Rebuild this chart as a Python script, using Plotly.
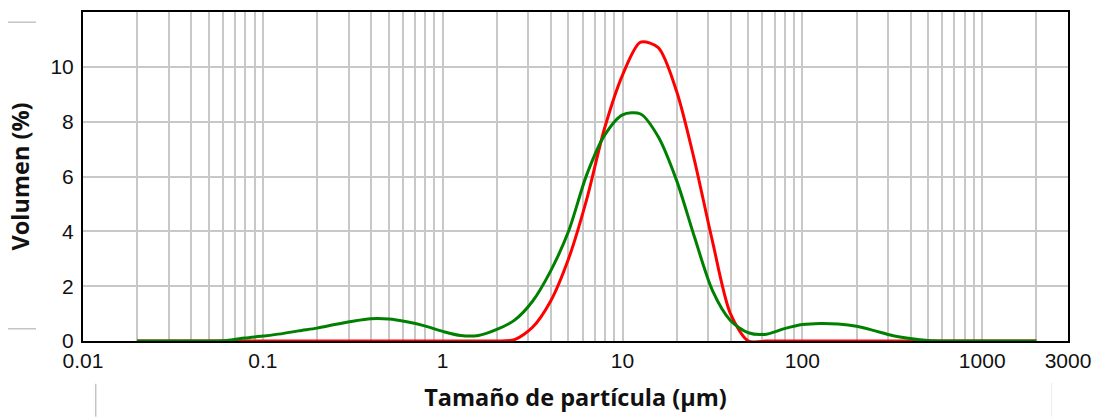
import plotly.graph_objects as go

# Particle size classes (µm), log-spaced, ten per decade
size_um = [0.02, 0.0251, 0.0316, 0.0398, 0.0501, 0.0631, 0.0794,
           0.1, 0.126, 0.158, 0.2, 0.251, 0.316, 0.398, 0.501, 0.631, 0.794,
           1.0, 1.26, 1.58, 2.0, 2.51, 3.16, 3.98, 5.01, 6.31, 7.94,
           10.0, 12.6, 15.8, 20.0, 25.1, 31.6, 39.8, 50.1, 63.1, 79.4,
           100.0, 126.0, 158.0, 200.0, 251.0, 316.0, 398.0, 501.0, 631.0, 794.0,
           1000.0, 1260.0, 1580.0, 2000.0]

# Volume distribution (%) of the narrow sample
volume_red = [0, 0, 0, 0, 0, 0, 0,
              0, 0, 0, 0, 0, 0, 0, 0, 0, 0,
              0, 0, 0, 0, 0.05, 0.5, 1.45, 3.0, 5.15, 7.75,
              9.7, 10.9, 10.7, 9.1, 6.6, 3.65, 1.0, 0, 0, 0,
              0, 0, 0, 0, 0, 0, 0, 0, 0, 0,
              0, 0, 0, 0]

# Volume distribution (%) of the multimodal sample
volume_green = [0, 0, 0, 0, 0, 0.02, 0.11,
                0.18, 0.26, 0.37, 0.47, 0.60, 0.72, 0.81, 0.80, 0.70, 0.55,
                0.35, 0.20, 0.20, 0.42, 0.76, 1.45, 2.55, 4.0, 6.05, 7.5,
                8.25, 8.28, 7.45, 5.85, 3.8, 1.85, 0.75, 0.30, 0.25, 0.45,
                0.60, 0.64, 0.62, 0.54, 0.38, 0.20, 0.09, 0.02, 0, 0,
                0, 0, 0, 0]

# Axis ticks
x_grid_vals = [m * 10 ** e for e in range(-2, 4) for m in range(1, 10)
               if m * 10 ** e <= 3000] + [3000]
x_labels = {0.01: "0.01", 0.1: "0.1", 1: "1", 10: "10", 100: "100",
            1000: "1000", 3000: "3000"}
x_tick_text = [x_labels.get(round(v, 4), "") for v in x_grid_vals]
y_tick_vals = [0, 2, 4, 6, 8, 10]
y_tick_text = ["0", "2", "4", "6", "8", "10"]

fig = go.Figure()
fig.add_trace(go.Scatter(
    x=size_um, y=volume_red, mode="lines",
    line=dict(color="#ff0000", width=3, shape="spline", smoothing=0.8),
    showlegend=False,
))
fig.add_trace(go.Scatter(
    x=size_um, y=volume_green, mode="lines",
    line=dict(color="#008000", width=3, shape="spline", smoothing=0.8),
    showlegend=False,
))

grid_color = "#c8c8c8"
tick_font = dict(family="Liberation Sans, Arial, sans-serif", size=21, color="#111")
title_font = dict(family="Open Sans, sans-serif", size=23.5, color="#111")

fig.update_xaxes(
    type="log", range=[-2, 3.4771],
    tickmode="array", tickvals=x_grid_vals, ticktext=x_tick_text,
    showgrid=True, gridcolor=grid_color, gridwidth=2,
    showline=True, linecolor="black", linewidth=2, mirror=True,
    ticks="", tickfont=tick_font, zeroline=False,
    title=dict(text="<b>Tamaño de partícula (µm)</b>", font=title_font, standoff=18),
)
fig.update_yaxes(
    range=[0, 12],
    tickmode="array", tickvals=y_tick_vals, ticktext=y_tick_text,
    showgrid=True, gridcolor=grid_color, gridwidth=2,
    showline=True, linecolor="black", linewidth=2, mirror=True,
    ticks="", tickfont=tick_font, zeroline=False, ticklabelstandoff=3,
    title=dict(text="<b>Volumen (%)</b>", font=title_font, standoff=14),
)

# Thin separator rules outside the frame
rule = dict(color="#c4c4c4", width=1.5)
fig.add_shape(type="line", xref="paper", yref="paper",
              x0=-0.0761, x1=-0.0477, y0=0.969, y1=0.969, line=rule)
fig.add_shape(type="line", xref="paper", yref="paper",
              x0=-0.0761, x1=-0.0477, y0=0.0372, y1=0.0372, line=rule)
fig.add_shape(type="line", xref="paper", yref="paper",
              x0=0.0129, x1=0.0129, y0=-0.130, y1=-0.23, line=rule)
fig.add_shape(type="line", xref="paper", yref="paper",
              x0=0.9834, x1=0.9834, y0=-0.127, y1=-0.23,
              line=dict(color="#ececec", width=1))

fig.update_layout(
    width=1107, height=417,
    margin=dict(l=83, r=39, t=10, b=76),
    paper_bgcolor="white", plot_bgcolor="white",
)

fig.write_html("out.html")
